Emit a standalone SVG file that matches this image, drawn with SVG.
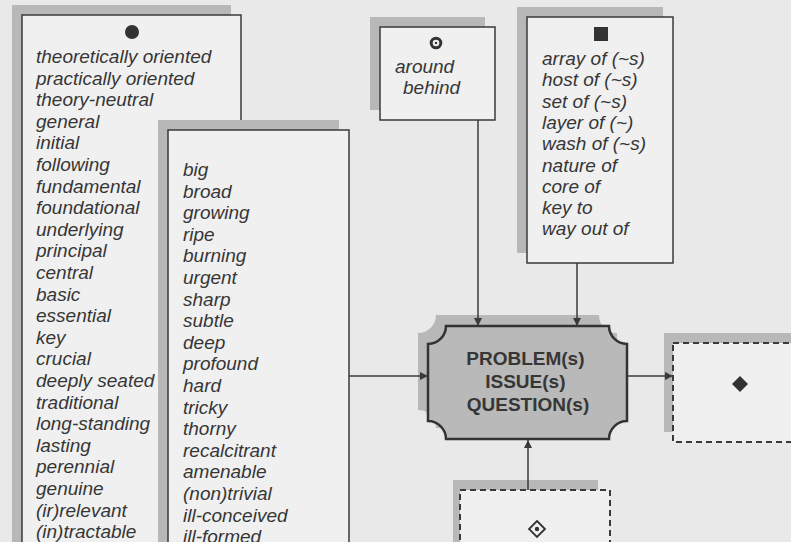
<svg xmlns="http://www.w3.org/2000/svg" width="791" height="542" viewBox="0 0 791 542">
<defs>
<style>
.bg{fill:#e9e9e9}
.sh{fill:#b8b8b8}
.box{fill:#f0f0f0;stroke:#3a3a3a;stroke-width:1.5}
.dbox{fill:#f0f0f0;stroke:#3a3a3a;stroke-width:2;stroke-dasharray:6 4}
.it{font-family:"Liberation Sans",Arial,sans-serif;font-style:italic;font-size:19px;fill:#363636}
.bold{font-family:"Liberation Sans",Arial,sans-serif;font-weight:bold;font-size:19px;fill:#363636;text-anchor:middle}
.con{stroke:#3a3a3a;stroke-width:1.5;fill:none}
</style>
<marker id="arr" viewBox="0 0 10 10" refX="10" refY="5" markerWidth="10" markerHeight="8" markerUnits="userSpaceOnUse" orient="auto">
<path d="M0,0 L10,5 L0,10 z" fill="#3a3a3a"/>
</marker>
</defs>
<rect class="bg" x="0" y="0" width="791" height="542"/>

<g id="node-adjectives-1">
<rect class="sh" x="12" y="5" width="219" height="560"/>
<rect class="box" x="22" y="15" width="219" height="560"/>
<circle cx="132" cy="32" r="7" fill="#333"/>
<text class="it">
<tspan x="36" y="63">theoretically oriented</tspan>
<tspan x="36" dy="21.6">practically oriented</tspan>
<tspan x="36" dy="21.6">theory-neutral</tspan>
<tspan x="36" dy="21.6">general</tspan>
<tspan x="36" dy="21.6">initial</tspan>
<tspan x="36" dy="21.6">following</tspan>
<tspan x="36" dy="21.6">fundamental</tspan>
<tspan x="36" dy="21.6">foundational</tspan>
<tspan x="36" dy="21.6">underlying</tspan>
<tspan x="36" dy="21.6">principal</tspan>
<tspan x="36" dy="21.6">central</tspan>
<tspan x="36" dy="21.6">basic</tspan>
<tspan x="36" dy="21.6">essential</tspan>
<tspan x="36" dy="21.6">key</tspan>
<tspan x="36" dy="21.6">crucial</tspan>
<tspan x="36" dy="21.6">deeply seated</tspan>
<tspan x="36" dy="21.6">traditional</tspan>
<tspan x="36" dy="21.6">long-standing</tspan>
<tspan x="36" dy="21.6">lasting</tspan>
<tspan x="36" dy="21.6">perennial</tspan>
<tspan x="36" dy="21.6">genuine</tspan>
<tspan x="36" dy="21.6">(ir)relevant</tspan>
<tspan x="36" dy="21.6">(in)tractable</tspan>
</text>
</g>

<g id="node-adjectives-2">
<rect class="sh" x="158" y="120" width="181" height="440"/>
<rect class="box" x="168" y="130" width="181" height="440"/>
<text class="it">
<tspan x="183" y="176">big</tspan>
<tspan x="183" dy="21.6">broad</tspan>
<tspan x="183" dy="21.6">growing</tspan>
<tspan x="183" dy="21.6">ripe</tspan>
<tspan x="183" dy="21.6">burning</tspan>
<tspan x="183" dy="21.6">urgent</tspan>
<tspan x="183" dy="21.6">sharp</tspan>
<tspan x="183" dy="21.6">subtle</tspan>
<tspan x="183" dy="21.6">deep</tspan>
<tspan x="183" dy="21.6">profound</tspan>
<tspan x="183" dy="21.6">hard</tspan>
<tspan x="183" dy="21.6">tricky</tspan>
<tspan x="183" dy="21.6">thorny</tspan>
<tspan x="183" dy="21.6">recalcitrant</tspan>
<tspan x="183" dy="21.6">amenable</tspan>
<tspan x="183" dy="21.6">(non)trivial</tspan>
<tspan x="183" dy="21.6">ill-conceived</tspan>
<tspan x="183" dy="21.6">ill-formed</tspan>
</text>
</g>

<g id="node-prepositions">
<rect class="sh" x="370" y="17" width="115" height="93"/>
<rect class="box" x="380" y="27" width="115" height="93"/>
<circle cx="436" cy="43" r="4.8" fill="none" stroke="#333" stroke-width="3"/>
<circle cx="436" cy="43" r="1.2" fill="#333"/>
<text class="it">
<tspan x="395" y="73">around</tspan>
<tspan x="403" y="94">behind</tspan>
</text>
</g>

<g id="node-nouns">
<rect class="sh" x="517" y="7" width="146" height="246"/>
<rect class="box" x="527" y="17" width="146" height="246"/>
<rect x="594" y="27" width="14" height="14" fill="#333"/>
<text class="it">
<tspan x="542" y="65">array of (~s)</tspan>
<tspan x="542" dy="21.3">host of (~s)</tspan>
<tspan x="542" dy="21.3">set of (~s)</tspan>
<tspan x="542" dy="21.3">layer of (~)</tspan>
<tspan x="542" dy="21.3">wash of (~s)</tspan>
<tspan x="542" dy="21.3">nature of</tspan>
<tspan x="542" dy="21.3">core of</tspan>
<tspan x="542" dy="21.3">key to</tspan>
<tspan x="542" dy="21.3">way out of</tspan>
</text>
</g>

<g id="node-problem">
<path class="sh" transform="translate(-10,-11)" d="M446,326 H609 A18 18 0 0 0 627,344 V421 A18 18 0 0 0 609,439 H446 A18 18 0 0 0 428,421 V344 A18 18 0 0 0 446,326 Z"/>
<path d="M446,326 H609 A18 18 0 0 0 627,344 V421 A18 18 0 0 0 609,439 H446 A18 18 0 0 0 428,421 V344 A18 18 0 0 0 446,326 Z" fill="#b9b9b9" stroke="#333" stroke-width="2.5"/>
<text class="bold">
<tspan x="528" y="365">PROBLEM(s)</tspan>
<tspan x="528" y="388">ISSUE(s)</tspan>
<tspan x="528" y="411">QUESTION(s)</tspan>
</text>
</g>

<g id="node-verbs">
<rect class="sh" x="664" y="333" width="140" height="99"/>
<rect class="dbox" x="673" y="343" width="140" height="99"/>
<path d="M740,376 L748,384 L740,392 L732,384 Z" fill="#333"/>
</g>

<g id="node-verbs-2">
<rect class="sh" x="453" y="480" width="145" height="80"/>
<rect class="dbox" x="460" y="490" width="150" height="80"/>
<path d="M537,521 L545,529 L537,537 L529,529 Z" fill="none" stroke="#333" stroke-width="1.8"/>
<circle cx="537" cy="529" r="2.2" fill="#333"/>
</g>

<g id="connectors">
<line class="con" x1="349" y1="376" x2="428" y2="376" marker-end="url(#arr)"/>
<line class="con" x1="478" y1="120" x2="478" y2="326" marker-end="url(#arr)"/>
<line class="con" x1="577" y1="263" x2="577" y2="326" marker-end="url(#arr)"/>
<line class="con" x1="627" y1="376" x2="673" y2="376" marker-end="url(#arr)"/>
<line class="con" x1="528" y1="490" x2="528" y2="440" marker-end="url(#arr)"/>
</g>
</svg>
